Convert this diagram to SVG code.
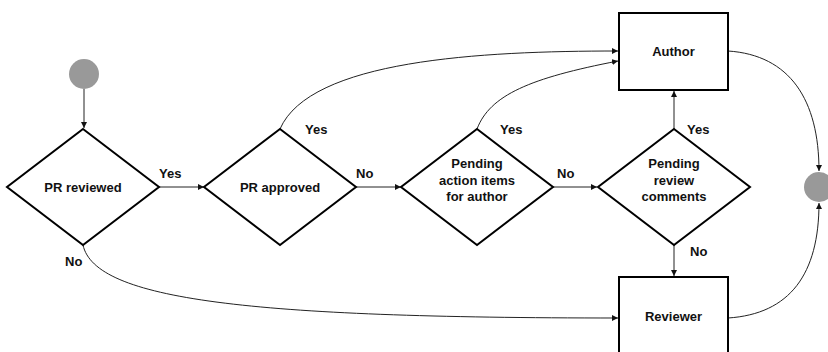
<svg xmlns="http://www.w3.org/2000/svg" width="828" height="352" viewBox="0 0 828 352">
  <style>
    .shape { fill: #ffffff; stroke: #000000; stroke-width: 2; }
    .term { fill: #999999; }
    .edge { fill: none; stroke: #222222; stroke-width: 1; marker-end: url(#arrow); }
    text { font-family: "Liberation Sans", Arial, sans-serif; font-weight: bold; font-size: 13px; fill: #111111; }
    .c { text-anchor: middle; }
  </style>
  <defs>
    <marker id="arrow" viewBox="0 0 10 10" refX="10" refY="5" markerWidth="6" markerHeight="6" markerUnits="userSpaceOnUse" orient="auto">
      <path d="M0,0 L10,5 L0,10 z" fill="#111111"/>
    </marker>
  </defs>
  <rect width="828" height="352" fill="#ffffff"/>

  <g id="connectors">
    <path class="edge" d="M84,89 L84,128"/>
    <path class="edge" d="M159,187 L204,187"/>
    <path class="edge" d="M356,187 L401,187"/>
    <path class="edge" d="M553,187 L597,187"/>
    <path class="edge" d="M280,129 C310,60 480,51 618,51"/>
    <path class="edge" d="M477,129 C490,95 530,78 618,61"/>
    <path class="edge" d="M674,129 L674,91"/>
    <path class="edge" d="M674,245 L674,276"/>
    <path class="edge" d="M83,245 C95,300 250,318 618,318"/>
    <path class="edge" d="M728,51 C790,55 819,100 819,171"/>
    <path class="edge" d="M728,318 C790,314 819,274 819,203"/>
    <text x="159" y="178">Yes</text>
    <text x="65" y="266">No</text>
    <text x="305" y="134">Yes</text>
    <text x="356" y="178">No</text>
    <text x="500" y="134">Yes</text>
    <text x="557" y="178">No</text>
    <text x="687" y="134">Yes</text>
    <text x="690" y="256">No</text>
  </g>

  <g id="start">
    <circle class="term" cx="84" cy="74" r="15"/>
  </g>
  <g id="end">
    <circle class="term" cx="819" cy="187" r="15"/>
  </g>

  <g id="pr-reviewed">
    <polygon class="shape" points="83,129 159,187 83,245 7,187"/>
    <text class="c" x="83" y="192">PR reviewed</text>
  </g>
  <g id="pr-approved">
    <polygon class="shape" points="280,129 356,187 280,245 204,187"/>
    <text class="c" x="280" y="192">PR approved</text>
  </g>
  <g id="pending-action-items">
    <polygon class="shape" points="477,129 553,187 477,245 401,187"/>
    <text class="c" x="477" y="168">Pending</text>
    <text class="c" x="477" y="184.5">action items</text>
    <text class="c" x="477" y="201">for author</text>
  </g>
  <g id="pending-review-comments">
    <polygon class="shape" points="674,129 750,187 674,245 598,187"/>
    <text class="c" x="674" y="168">Pending</text>
    <text class="c" x="674" y="184.5">review</text>
    <text class="c" x="674" y="201">comments</text>
  </g>
  <g id="author">
    <rect class="shape" x="619" y="13" width="109" height="77"/>
    <text class="c" x="673.5" y="56">Author</text>
  </g>
  <g id="reviewer">
    <rect class="shape" x="619" y="277" width="109" height="77"/>
    <text class="c" x="673.5" y="321">Reviewer</text>
  </g>
</svg>
